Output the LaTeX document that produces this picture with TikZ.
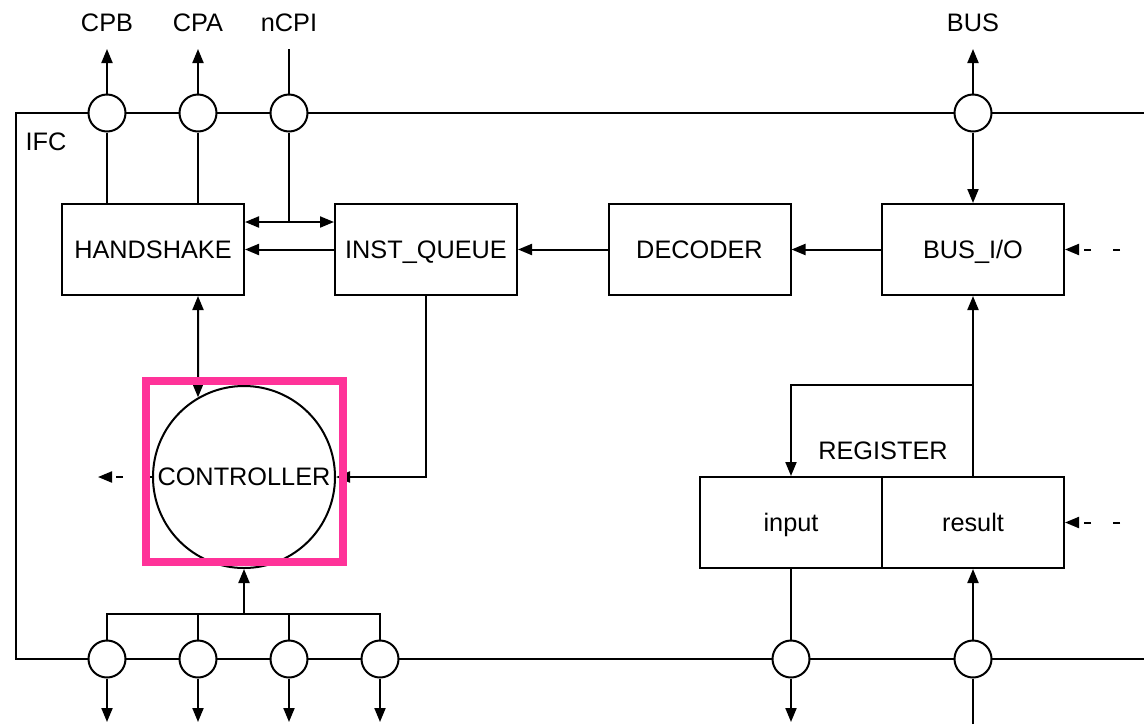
\documentclass[tikz,border=0pt]{standalone}
\usepackage{fontspec}
\setmainfont{Liberation Sans}
\usetikzlibrary{arrows.meta,positioning,calc}
\usepackage{xcolor}
\definecolor{hilitepink}{HTML}{FF3399}

\begin{document}
\begin{tikzpicture}[
    x=1pt, y=-1pt,
    >={Triangle[length=14pt,width=11pt]},
    line width=2pt,
    font=\fontsize{25.3}{30}\selectfont,
    % blocks of the interface; caps centred by a fixed text height
    blk/.style={draw, rectangle, minimum width=182pt, minimum height=91pt, inner sep=0pt,
                text height=18.2pt, text depth=0pt},
    port/.style={draw, circle, fill=white, minimum size=37pt, inner sep=0pt},
    ctl/.style={draw, circle, minimum size=182pt, inner sep=0pt},
    lbl/.style={text height=18.2pt, text depth=0pt},
    dsig/.style={->, dash pattern=on 7pt off 22pt},
    hilite/.style={draw=hilitepink, line width=8pt},
]
\useasboundingbox (0,0) rectangle (1144,724);

%================= frame of the IFC =================%
\draw (1144,113) -- (16,113) -- (16,659) -- (1144,659);
\node[lbl] (ifc) at (46,141) {IFC};

%================= ports =================%
\node[port] (pCPB) at (107,113) {};
\node[port] (pCPA) at (198,113) {};
\node[port] (pCPI) at (289,113) {};
\node[port] (pBUS) at (973,113) {};
\foreach \x [count=\i] in {107,198,289,380}
    \node[port] (pOut\i) at (\x,659) {};
\node[port] (pIn)  at (791,659) {};
\node[port] (pRes) at (973,659) {};

\node[lbl] (lCPB) at (107,22) {CPB};
\node[lbl] (lCPA) at (198,22) {CPA};
\node[lbl] (lCPI) at (289,22) {nCPI};
\node[lbl] (lBUS) at (973,22) {BUS};

%================= blocks =================%
\node[blk] (hs)  at (153,249.5) {HANDSHAKE};
\node[blk] (iq)  at (426,249.5) {INST\_QUEUE};
\node[blk] (dec) at (699.5,249.5) {DECODER};
\node[blk] (bio) at (973,249.5) {BUS\_I/O};
\node[ctl] (ctrl) at (244,477) {CONTROLLER};
\node[blk] (rin)  at (791,522.5) {input};
\node[blk] (rres) at (973,522.5) {result};
\node[lbl] (reg) at (883,450) {REGISTER};

%================= free ends =================%
\coordinate (cpbEnd) at (107,49);
\coordinate (cpaEnd) at (198,49);
\coordinate (cpiEnd) at (289,49);
\coordinate (busEnd) at (973,49);
\coordinate (cpiJoin) at (289,222);
\coordinate (bioCtl) at (1120,249.5);
\coordinate (ctlOut) at (98,477);
\coordinate (regJoin) at (973,385);
\coordinate (regCtl) at (1120,522.5);
\coordinate (busJoin) at (244,614);
\coordinate (outEnd) at (0,722);
\coordinate (resSrc) at (0,724);

%================= top side =================%
\draw[->] (pCPB) -- (cpbEnd);
\draw[->] (pCPA) -- (cpaEnd);
\draw (cpiEnd) -- (pCPI);
\draw[->] (pBUS) -- (busEnd);
\draw (pCPB) -- (pCPB |- hs.north);
\draw (pCPA) -- (pCPA |- hs.north);
\draw (pCPI) -- (cpiJoin);
\draw[->] (cpiJoin) -- (cpiJoin -| hs.east);
\draw[->] (cpiJoin) -- (cpiJoin -| iq.west);
\draw[->] (iq) -- (hs);
\draw[->] (dec) -- (iq);
\draw[->] (bio) -- (dec);
\draw[->] (pBUS) -- (bio);
\draw[dsig] (bioCtl) -- (bio);

%================= controller =================%
\draw[<->] (pCPA |- hs.south) -- (ctrl.120);
\draw[->] (iq) -- (iq |- ctrl) -- (ctrl);
\draw[dsig] (ctrl) -- (ctlOut);
\draw (pOut1) -- (pOut1 |- busJoin) -- (pOut4 |- busJoin) -- (pOut4);
\draw (pOut2) -- (pOut2 |- busJoin);
\draw (pOut3) -- (pOut3 |- busJoin);
\draw[->] (busJoin) -- (ctrl);
\foreach \i in {1,...,4}
    \draw[->] (pOut\i) -- (pOut\i |- outEnd);

%================= register =================%
\draw[->] (rres) -- (bio);
\draw[->] (regJoin) -| (rin);
\draw[dsig] (regCtl) -- (rres);
\draw (rin) -- (pIn);
\draw[->] (pIn) -- (pIn |- outEnd);
\draw (pRes |- resSrc) -- (pRes);
\draw[->] (pRes) -- (rres);

%================= highlight =================%
\draw[hilite] (146,380.5) rectangle (342.5,562.3);

\end{tikzpicture}
\end{document}
